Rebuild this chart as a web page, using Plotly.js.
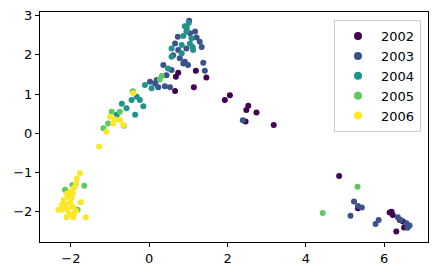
<!DOCTYPE html>
<html>
<head>
<meta charset="utf-8">
<script src="https://cdn.plot.ly/plotly-3.0.1.min.js"></script>
<style>html,body{margin:0;padding:0;background:#fff;}#chart{width:437px;height:276px;}</style>
</head>
<body>
<div id="chart"></div>
<script>
const years = ['2002', '2003', '2004', '2005', '2006'];
const colors = ['#440154', '#3b528b', '#21918c', '#5ec962', '#fde725'];

const x2002 = [0.74, 0.68, 1.19, 1.46, 0.66, 1.14, 1.93, 2.06, 2.53, 2.48, 2.74, 2.46, 3.18, 4.85, 5.33, 6.14, 6.22, 6.48, 6.51, 6.31, 6.40, 6.19];
const y2002 = [1.54, 1.44, 1.59, 1.42, 1.08, 1.17, 0.85, 0.97, 0.70, 0.59, 0.53, 0.30, 0.21, -1.09, -1.91, -2.02, -2.08, -2.25, -2.40, -2.50, -2.21, -2.00];

const x2003 = [1.17, 0.73, 1.21, 0.66, 1.29, 0.74, 0.95, 1.34, 0.61, 0.78, 0.91, 0.99, 0.87, 1.38, 0.36, 0.57, 1.42, 0.44, 0.19, 0.15, 0.02, 0.23, 0.40, 0.53, 1.04, 1.02, 2.39, 5.23, 5.33, 5.43, 5.14, 5.78, 5.86, 6.35, 6.57, 6.65, 6.60, 6.42];
const y2003 = [2.59, 2.46, 2.44, 2.29, 2.33, 2.12, 2.16, 2.20, 1.99, 1.91, 1.82, 1.74, 1.78, 1.80, 1.74, 1.61, 1.59, 1.48, 1.36, 1.27, 1.31, 1.17, 1.20, 1.17, 2.55, 2.87, 0.33, -1.74, -1.85, -1.89, -2.10, -2.31, -2.21, -2.14, -2.29, -2.35, -2.41, -2.21];

const x2004 = [1.01, 0.91, 0.95, 0.87, 1.08, 0.83, 1.04, 0.57, 1.12, 0.83, 0.57, 0.48, -0.11, 0.06, -0.32, -0.45, -0.24, -0.70, -0.58, -0.15, -0.36, -0.83, 0.96, 1.11];
const y2004 = [2.81, 2.73, 2.59, 2.48, 2.42, 2.25, 2.29, 2.16, 2.12, 2.04, 1.95, 1.65, 1.23, 1.15, 0.93, 0.85, 0.85, 0.75, 0.64, 0.69, 0.47, 0.47, 2.68, 2.20];

const x2005 = [0.27, 0.32, -0.75, -0.96, -1.05, -1.17, -0.65, -0.42, -1.96, -1.66, -1.83, -2.15, 5.32, 4.43];
const y2005 = [1.37, 1.46, 0.55, 0.55, 0.25, 0.13, 0.19, 1.07, -1.32, -1.34, -1.95, -1.44, -1.36, -2.03];

const x2006 = [-0.41, -1.00, -0.88, -0.75, -0.92, -0.66, -1.09, -1.28, -1.77, -1.85, -2.02, -1.95, -2.07, -1.98, -1.92, -1.87, -2.11, -1.75, -2.19, -2.23, -2.32, -2.15, -2.02, -1.95, -2.10, -2.23, -1.87, -2.11, -1.94, -1.62, -2.05, -1.92];
const y2006 = [1.02, 0.42, 0.36, 0.34, 0.25, 0.21, 0.04, -0.34, -1.02, -1.16, -1.49, -1.52, -1.62, -1.65, -1.39, -1.29, -1.54, -1.76, -1.70, -1.82, -1.95, -1.82, -1.77, -1.88, -1.93, -1.95, -1.98, -2.14, -2.14, -2.14, -2.05, -2.05];

const xs = [x2002, x2003, x2004, x2005, x2006];
const ys = [y2002, y2003, y2004, y2005, y2006];

const traces = [];
years.forEach((yr, i) => {
  traces.push({
    type: 'scatter', mode: 'markers', x: xs[i], y: ys[i], name: yr,
    showlegend: false, legendgroup: yr,
    marker: {color: colors[i], size: 6, line: {width: 0}}
  });
});
years.forEach((yr, i) => {
  traces.push({
    type: 'scatter', mode: 'markers', x: [null], y: [null], name: yr,
    showlegend: true, legendgroup: yr,
    marker: {color: colors[i], size: 8, line: {width: 0}}
  });
});

const axisCommon = {
  showgrid: false, zeroline: false, showline: true, mirror: true,
  linecolor: '#000', linewidth: 1, ticks: 'outside', ticklen: 4, tickwidth: 1,
  tickcolor: '#000', tickfont: {family: 'DejaVu Sans', size: 13, color: '#000'}
};

const layout = {
  width: 437, height: 276,
  margin: {l: 40, r: 9, t: 12, b: 34},
  paper_bgcolor: '#fff', plot_bgcolor: '#fff',
  font: {family: 'DejaVu Sans', size: 13, color: '#000'},
  xaxis: Object.assign({}, axisCommon, {range: [-2.79, 7.12], tickvals: [-2, 0, 2, 4, 6]}),
  yaxis: Object.assign({}, axisCommon, {range: [-2.77, 3.09], tickvals: [-2, -1, 0, 1, 2, 3]}),
  legend: {
    x: 0.982, y: 0.965, xanchor: 'right', yanchor: 'top',
    bgcolor: 'rgba(255,255,255,0.8)', bordercolor: '#cccccc', borderwidth: 1,
    font: {family: 'DejaVu Sans', size: 13, color: '#000'},
    tracegroupgap: 0, itemwidth: 36
  }
};

Plotly.newPlot('chart', traces, layout, {displayModeBar: false, staticPlot: true});
</script>
</body>
</html>
